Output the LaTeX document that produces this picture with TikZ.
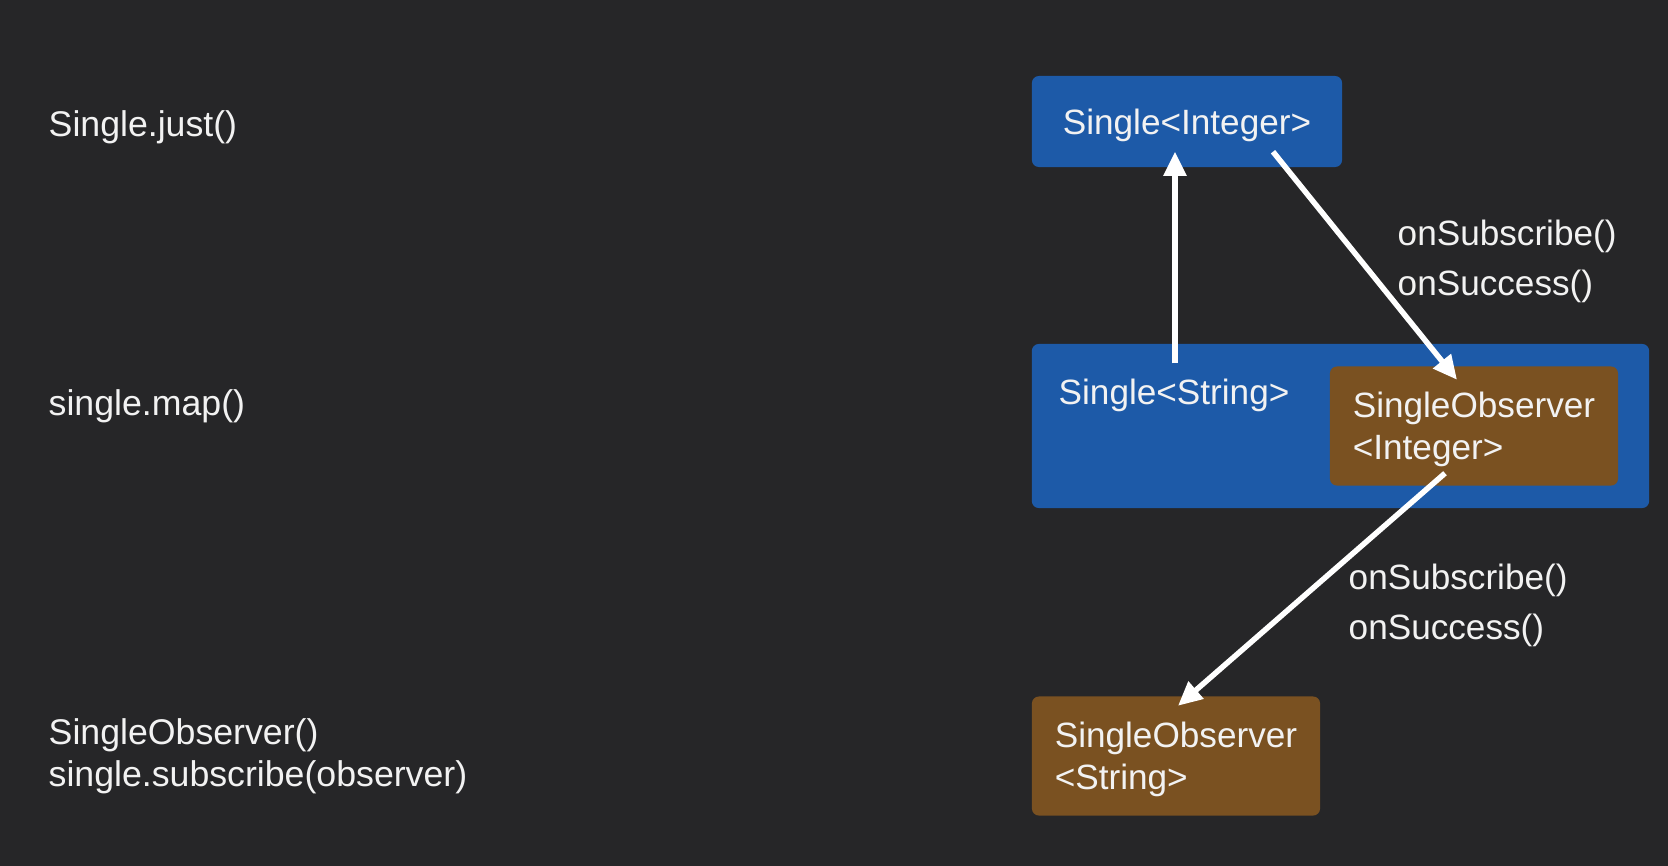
\documentclass[tikz,border=0pt]{standalone}
\usepackage{fontspec}
\setmainfont{Liberation Sans}
\usetikzlibrary{arrows.meta,positioning,calc}
\definecolor{cBg}{HTML}{262628}
\definecolor{cBlue}{HTML}{1D5AA8}
\definecolor{cBrown}{HTML}{7A5121}
\definecolor{cText}{HTML}{F2F2F2}
\tikzset{
  >={Triangle[length=2.4mm, width=2.2mm]},
  font=\fontsize{10}{12}\selectfont,
  bluebox/.style={fill=cBlue, rounded corners=0.7mm, text=cText, align=left, inner sep=0,
                  text depth=0pt},
  obsbox/.style={fill=cBrown, rounded corners=0.7mm, text=cText, align=left, inner sep=0,
                 text depth=0pt, minimum width=2.88cm, minimum height=1.19cm},
  code/.style={text=cText, anchor=west, inner sep=0, align=left,
               font=\fontsize{10.15}{12}\selectfont},
  call/.style={text=cText, anchor=west, inner sep=0, align=left,
               font=\fontsize{10}{14.2}\selectfont},
  arr/.style={->, draw=white, line width=0.55mm},
}

\begin{document}
\begin{tikzpicture}[x=0.01cm, y=-0.01cm]
    % background
    \fill[cBg] (0,0) rectangle (1668,866);
    % code on the left
    \node[code] (just) at (48,127) {Single.just()};
    \node[code] (map)  at (48,406) {single.map()};
    \node[code] (subs) at (48,756) {SingleObserver()\\single.subscribe(observer)};
    % singles and observers
    \node[bluebox, minimum width=3.10cm, minimum height=0.91cm] (intbox) at (1187,121.5) {Single<Integer>};
    \node[bluebox, minimum width=6.17cm, minimum height=1.64cm] (mapbox) at (1340.5,426) {};
    \node[code, font=\fontsize{10}{12}\selectfont] (strlbl) at (1058,395) {Single<String>};
    \node[obsbox] (obsint) at (1474,426) {SingleObserver\\<Integer>};
    \node[obsbox] (obsstr) at (1176,756) {SingleObserver\\<String>};
    % calls
    \node[call] (callA) at (1397,261) {onSubscribe()\\onSuccess()};
    \node[call] (callB) at (1348,605) {onSubscribe()\\onSuccess()};
    % arrows
    \draw[arr] ($(mapbox.north -| intbox.south)+(-12,20)$) -- ($(intbox.south)+(-12,-16)$);
    \draw[arr] ($(intbox.south)+(86,-16)$) -- ($(obsint.north)+(-17,14)$);
    \draw[arr] ($(obsint.south)+(-29,-13)$) -- ($(obsstr.north)+(2,10)$);
\end{tikzpicture}
\end{document}
